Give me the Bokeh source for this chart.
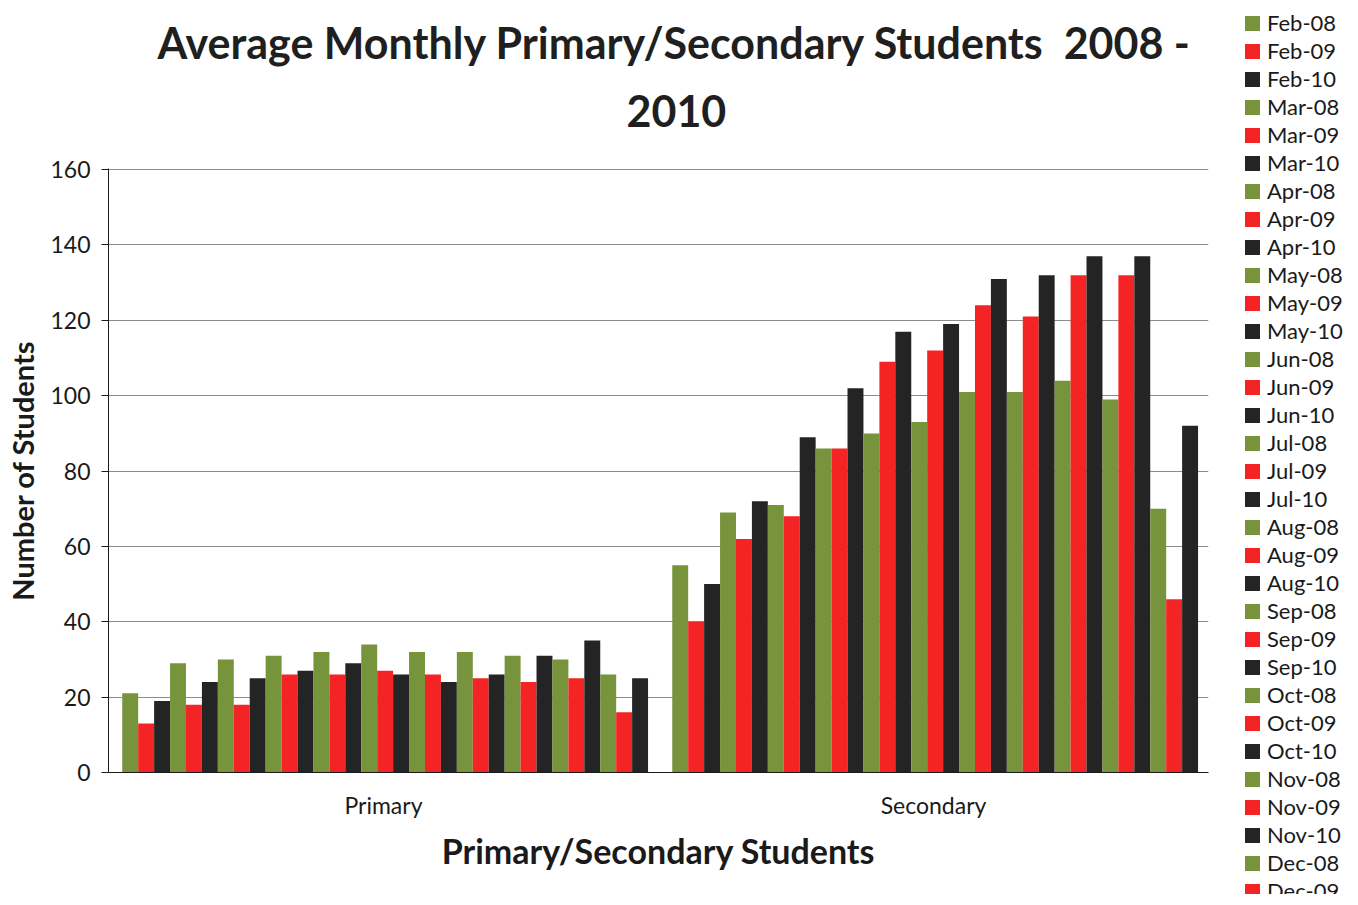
from bokeh.plotting import figure
from bokeh.layouts import row
from bokeh.models import (ColumnDataSource, FactorRange, Title, Div,
                          SingleIntervalTicker, Range1d)
from bokeh.transform import dodge
from bokeh.embed import file_html
from bokeh.resources import INLINE

categories = ["Primary", "Secondary"]

series_names = [
    "Feb-08", "Feb-09", "Feb-10", "Mar-08", "Mar-09", "Mar-10",
    "Apr-08", "Apr-09", "Apr-10", "May-08", "May-09", "May-10",
    "Jun-08", "Jun-09", "Jun-10", "Jul-08", "Jul-09", "Jul-10",
    "Aug-08", "Aug-09", "Aug-10", "Sep-08", "Sep-09", "Sep-10",
    "Oct-08", "Oct-09", "Oct-10", "Nov-08", "Nov-09", "Nov-10",
    "Dec-08", "Dec-09", "Dec-10",
]

primary_values = [
    21, 13, 19, 29, 18, 24, 30, 18, 25, 31, 26, 27,
    32, 26, 29, 34, 27, 26, 32, 26, 24, 32, 25, 26,
    31, 24, 31, 30, 25, 35, 26, 16, 25,
]

secondary_values = [
    55, 40, 50, 69, 62, 72, 71, 68, 89, 86, 86, 102,
    90, 109, 117, 93, 112, 119, 101, 124, 131, 101, 121, 132,
    104, 132, 137, 99, 132, 137, 70, 46, 92,
]

year_colors = {"08": "#77933c", "09": "#f52424", "10": "#242424"}

FONT = "Lato"

data = {"cat": categories}
for name, a, b in zip(series_names, primary_values, secondary_values):
    data[name] = [a, b]
source = ColumnDataSource(data)

# ---------------- main chart ----------------
p = figure(
    x_range=FactorRange(*categories, range_padding=0, factor_padding=0),
    y_range=Range1d(0, 160.3),
    width=1226, height=889,
    output_backend="svg", toolbar_location=None,
    min_border_left=108, min_border_right=18,
    min_border_top=168, min_border_bottom=117,
    background_fill_color="white", border_fill_color="white",
    outline_line_color=None,
)
p.title = None

n = len(series_names)
group_frac = 0.956
bw = group_frac / n
for i, name in enumerate(series_names):
    off = -group_frac / 2 + (i + 0.5) * bw + 0.003
    color = year_colors[name[-2:]]
    p.vbar(x=dodge("cat", off, range=p.x_range), top=name, width=bw,
           source=source, fill_color=color, line_color=None)

# title (two lines)
p.add_layout(Title(text="2010", align="left", text_font=FONT,
                   text_font_style="bold", text_font_size="43px",
                   text_color="#1f1f1f", offset=518, standoff=84), "above")
p.add_layout(Title(text="Average Monthly Primary/Secondary Students\u00a0\u00a02008 -",
                   align="left", text_font=FONT, text_font_style="bold",
                   text_font_size="43px", text_color="#1f1f1f", offset=49,
                   standoff=-34), "above")

# grid
p.xgrid.grid_line_color = None
p.ygrid.grid_line_color = "#8c8c8c"
p.ygrid.grid_line_width = 1.2
p.yaxis.ticker = SingleIntervalTicker(interval=20)

# y axis
p.yaxis.axis_line_color = "#1a1a1a"
p.yaxis.major_tick_line_color = "#1a1a1a"
p.yaxis.major_tick_out = 7
p.yaxis.major_tick_in = 0
p.yaxis.minor_tick_line_color = None
p.yaxis.major_label_text_font = FONT
p.yaxis.major_label_text_font_size = "23px"
p.yaxis.major_label_text_color = "#1a1a1a"
p.yaxis.major_label_standoff = 11
p.yaxis.axis_label = "Number of Students"
p.yaxis.axis_label_text_font = FONT
p.yaxis.axis_label_text_font_style = "bold"
p.yaxis.axis_label_text_font_size = "29px"
p.yaxis.axis_label_text_color = "#1a1a1a"
p.yaxis.axis_label_standoff = 7

# x axis
p.xaxis.axis_line_color = "#1a1a1a"
p.xaxis.major_tick_line_color = None
p.xaxis.minor_tick_line_color = None
p.xaxis.major_label_text_font = FONT
p.xaxis.major_label_text_font_size = "23px"
p.xaxis.major_label_text_color = "#1a1a1a"
p.xaxis.major_label_standoff = 12
p.xaxis.axis_label = "Primary/Secondary Students"
p.xaxis.axis_label_text_font = FONT
p.xaxis.axis_label_text_font_style = "bold"
p.xaxis.axis_label_text_font_size = "34px"
p.xaxis.axis_label_text_color = "#1a1a1a"
p.xaxis.axis_label_standoff = 8

# ---------------- legend strip (built from the series lists) ----------------
rows_html = []
for name in series_names:
    color = year_colors[name[-2:]]
    rows_html.append(
        '<div style="height:28px;display:flex;align-items:center;white-space:nowrap;">'
        f'<span style="display:inline-block;width:15px;height:15px;background:{color};'
        'margin-right:7px;flex:none;"></span>'
        f'<span>{name}</span></div>'
    )
legend_html = (
    f'<div style="padding:4px 0 0 14px;font-family:{FONT};font-size:22px;'
    'color:#1a1a1a;line-height:28px;">' + "".join(rows_html) + "</div>"
)
legend_div = Div(text=legend_html, width=116, height=889,
                 styles={"overflow": "hidden", "background-color": "white"})

layout = row(p, legend_div, spacing=0)
open("out.html", "w").write(file_html(layout, INLINE))
